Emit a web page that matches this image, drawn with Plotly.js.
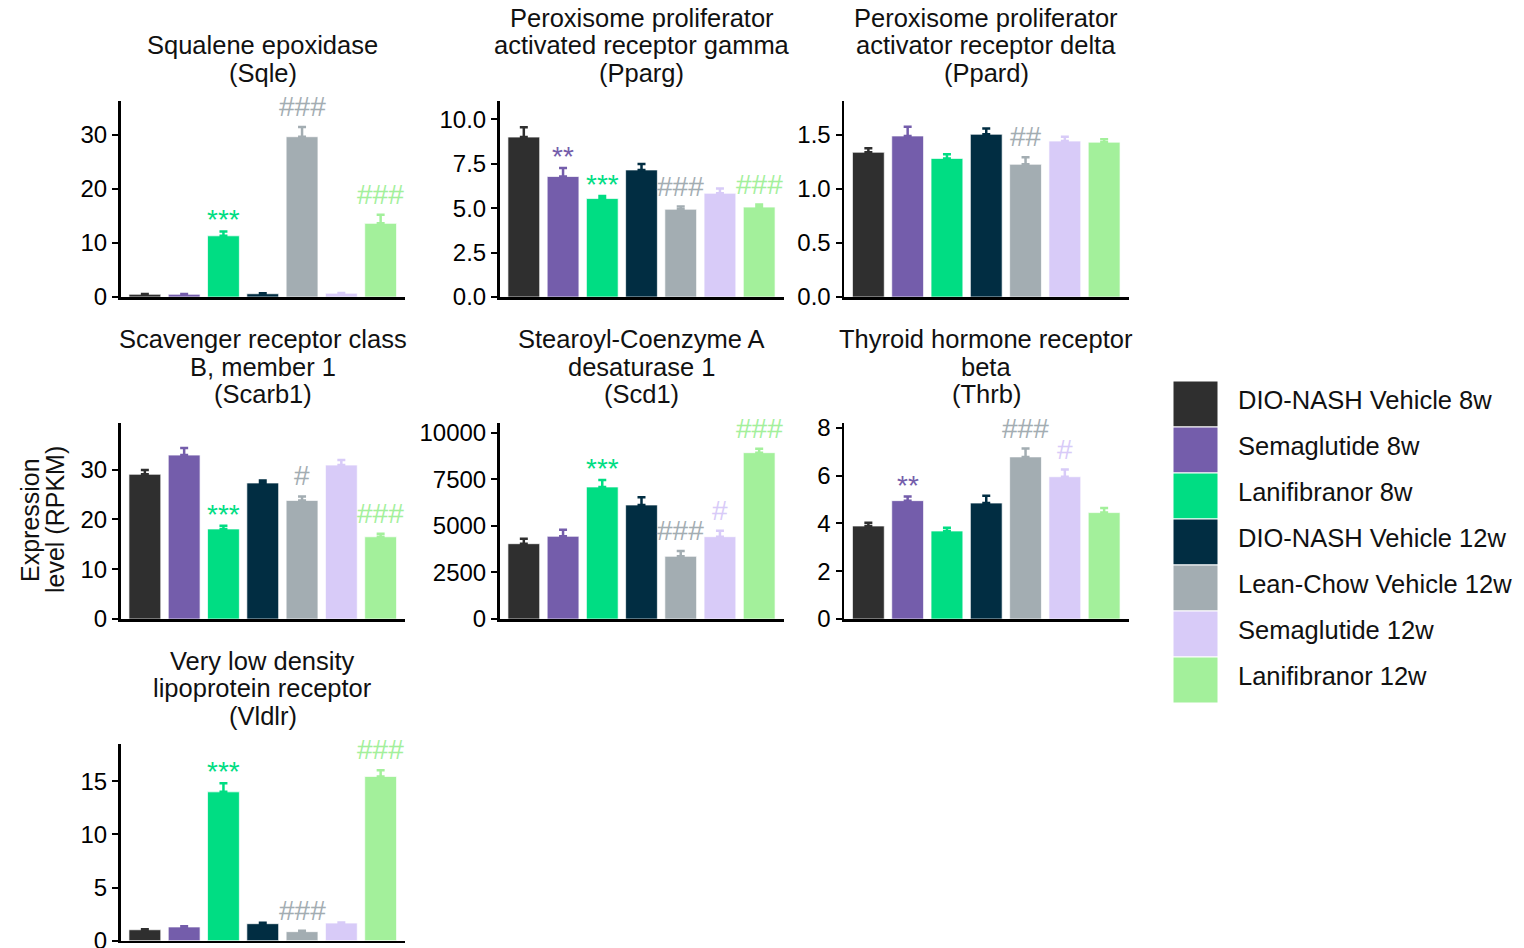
<!DOCTYPE html>
<html><head><meta charset="utf-8">
<script src="https://cdn.plot.ly/plotly-3.0.1.min.js"></script>
<style>html,body{margin:0;padding:0;background:#fff}</style>
</head><body><div id="chart" style="width:1524px;height:948px"></div>
<script>
// ---- data ----
const groups = ['DIO-NASH Vehicle 8w','Semaglutide 8w','Lanifibranor 8w','DIO-NASH Vehicle 12w','Lean-Chow Vehicle 12w','Semaglutide 12w','Lanifibranor 12w'];
const groupColors = ['#2f2f2f','#745dab','#00dd83','#012d42','#a3adb2','#d8cbf8','#a3f09b'];

const sqleTitle = ['Squalene epoxidase','(Sqle)'];
const sqleMean = [0.5, 0.5, 11.3, 0.6, 29.6, 0.7, 13.6];
const sqleSem  = [0.06, 0.06, 0.8, 0.07, 1.8, 0.06, 1.6];
const sqleSig  = ['', '', '***', '', '###', '', '###'];

const ppargTitle = ['Peroxisome proliferator','activated receptor gamma','(Pparg)'];
const ppargMean = [9.0, 6.78, 5.54, 7.15, 4.94, 5.84, 5.06];
const ppargSem  = [0.55, 0.48, 0.15, 0.34, 0.15, 0.26, 0.14];
const ppargSig  = ['', '**', '***', '', '###', '', '###'];

const ppardTitle = ['Peroxisome proliferator','activator receptor delta','(Ppard)'];
const ppardMean = [1.337, 1.487, 1.28, 1.503, 1.226, 1.44, 1.43];
const ppardSem  = [0.037, 0.086, 0.038, 0.054, 0.064, 0.04, 0.026];
const ppardSig  = ['', '', '', '', '##', '', ''];

const scarb1Title = ['Scavenger receptor class','B, member 1','(Scarb1)'];
const scarb1Mean = [29.05, 32.9, 18.07, 27.3, 23.8, 30.9, 16.5];
const scarb1Sem  = [0.85, 1.4, 0.63, 0.5, 0.8, 1.0, 0.6];
const scarb1Sig  = ['', '', '***', '', '#', '', '###'];

const scd1Title = ['Stearoyl-Coenzyme A','desaturase 1','(Scd1)'];
const scd1Mean = [4040, 4437, 7082, 6116, 3364, 4415, 8922];
const scd1Sem  = [268, 353, 375, 413, 284, 322, 214];
const scd1Sig  = ['', '', '***', '', '###', '#', '###'];

const thrbTitle = ['Thyroid hormone receptor','beta','(Thrb)'];
const thrbMean = [3.89, 4.95, 3.68, 4.85, 6.78, 5.95, 4.45];
const thrbSem  = [0.14, 0.17, 0.14, 0.30, 0.35, 0.30, 0.19];
const thrbSig  = ['', '**', '', '', '###', '#', ''];

const vldlrTitle = ['Very low density','lipoprotein receptor','(Vldlr)'];
const vldlrMean = [1.03, 1.29, 14.0, 1.6, 0.85, 1.66, 15.45];
const vldlrSem  = [0.04, 0.06, 0.82, 0.09, 0.09, 0.05, 0.59];
const vldlrSig  = ['', '', '***', '', '###', '', '###'];

const yTitleLines = ['Expression','level (RPKM)'];

// ---- panels (layout only) ----
const panels = [
  {title:sqleTitle,   mean:sqleMean,   sem:sqleSem,   sig:sqleSig,   row:0, col:0, range:[0,36.2],  dtick:10,   fmt:''},
  {title:ppargTitle,  mean:ppargMean,  sem:ppargSem,  sig:ppargSig,  row:0, col:1, range:[0,11.03], dtick:2.5,  fmt:'.1f'},
  {title:ppardTitle,  mean:ppardMean,  sem:ppardSem,  sig:ppardSig,  row:0, col:2, range:[0,1.81],  dtick:0.5,  fmt:'.1f'},
  {title:scarb1Title, mean:scarb1Mean, sem:scarb1Sem, sig:scarb1Sig, row:1, col:0, range:[0,39.4],  dtick:10,   fmt:''},
  {title:scd1Title,   mean:scd1Mean,   sem:scd1Sem,   sig:scd1Sig,   row:1, col:1, range:[0,10530], dtick:2500, fmt:'d'},
  {title:thrbTitle,   mean:thrbMean,   sem:thrbSem,   sig:thrbSig,   row:1, col:2, range:[0,8.21],  dtick:2,    fmt:''},
  {title:vldlrTitle,  mean:vldlrMean,  sem:vldlrSem,  sig:vldlrSig,  row:2, col:0, range:[0,18.5],  dtick:5,    fmt:''}
];

const W = 1524, H = 948;
const colPx = [[120.5,405],[499.5,783.5],[844,1128.5]];
const rowPx = [[101,297],[422.7,619],[744,940.7]];
const FONT = '"Liberation Sans", Arial, sans-serif';
const FS = 25;

const data = [];
const layout = {
  width: W, height: H,
  margin: {l:0, r:0, t:0, b:0},
  paper_bgcolor: '#fff', plot_bgcolor: '#fff',
  barmode: 'overlay',
  showlegend: false,
  hovermode: false,
  font: {family: FONT, size: FS, color: '#000'},
  annotations: [],
  shapes: []
};

panels.forEach((p, i) => {
  const ax = i === 0 ? '' : String(i + 1);
  const [c0, c1] = colPx[p.col];
  const [r0, r1] = rowPx[p.row];
  layout['xaxis' + ax] = {
    domain: [c0 / W, c1 / W], anchor: 'y' + ax,
    type: 'category', categoryorder: 'array', categoryarray: groups,
    range: [-0.62, 6.62],
    showline: true, linecolor: '#000', linewidth: 2.5,
    showticklabels: false, ticks: '', showgrid: false, zeroline: false, fixedrange: true
  };
  layout['yaxis' + ax] = {
    domain: [1 - r1 / H, 1 - r0 / H], anchor: 'x' + ax,
    range: p.range, tick0: 0, dtick: p.dtick, tickformat: p.fmt,
    showline: true, linecolor: '#000', linewidth: 2.5,
    ticks: 'outside', ticklen: 6, tickwidth: 2, tickcolor: '#000',
    tickfont: {family: FONT, size: 24, color: '#000'},
    ticklabelstandoff: 0, ticklabeloverflow: 'allow',
    showgrid: false, zeroline: false, fixedrange: true
  };
  groups.forEach((g, k) => {
    data.push({
      type: 'bar', x: [g], y: [p.mean[k]],
      xaxis: 'x' + ax, yaxis: 'y' + ax,
      width: [0.81],
      marker: {color: groupColors[k], line: {color: 'rgba(255,255,255,0.7)', width: 1}},
      error_y: {type: 'data', symmetric: false, array: [p.sem[k]], arrayminus: [0],
                color: groupColors[k], thickness: 2.5, width: 4},
      showlegend: false, hoverinfo: 'skip'
    });
    if (p.sig[k]) {
      const isStar = p.sig[k].charAt(0) === '*';
      layout.annotations.push({
        xref: 'x' + ax, yref: 'y' + ax, x: g, y: p.mean[k] + p.sem[k],
        yanchor: 'bottom', xanchor: 'center', showarrow: false,
        text: p.sig[k], yshift: isStar ? -6 : 3,
        font: {family: FONT, size: 28, color: groupColors[k]}
      });
    }
  });
  // title lines
  const n = p.title.length;
  p.title.forEach((t, k) => {
    const py = r0 - 28 - 27.5 * (n - 1 - k);
    layout.annotations.push({
      xref: 'paper', yref: 'paper', x: (c0 + c1) / 2 / W, y: 1 - (py - 0.5) / H,
      xanchor: 'center', yanchor: 'middle', showarrow: false,
      text: t, font: {family: FONT, size: 25.5, color: '#111'}
    });
  });
});

// y-axis title
yTitleLines.forEach((t, k) => {
  layout.annotations.push({
    xref: 'paper', yref: 'paper', x: (30 + 25 * k) / W, y: 1 - 520 / H,
    xanchor: 'center', yanchor: 'middle', textangle: -90, showarrow: false,
    text: t, font: {family: FONT, size: FS, color: '#111'}
  });
});

// legend
groups.forEach((g, k) => {
  const top = 381 + 46 * k;
  layout.shapes.push({
    type: 'rect', xref: 'paper', yref: 'paper',
    x0: 1173 / W, x1: 1218 / W, y0: 1 - (top + 46) / H, y1: 1 - top / H,
    fillcolor: groupColors[k], line: {color: '#fff', width: 1}
  });
  layout.annotations.push({
    xref: 'paper', yref: 'paper', x: 1236 / W, y: 1 - (top + 19) / H,
    xanchor: 'left', yanchor: 'middle', showarrow: false,
    text: g, font: {family: FONT, size: 25.5, color: '#111'}
  });
});

Plotly.newPlot('chart', data, layout, {displayModeBar: false, staticPlot: true});
</script>
</body></html>
